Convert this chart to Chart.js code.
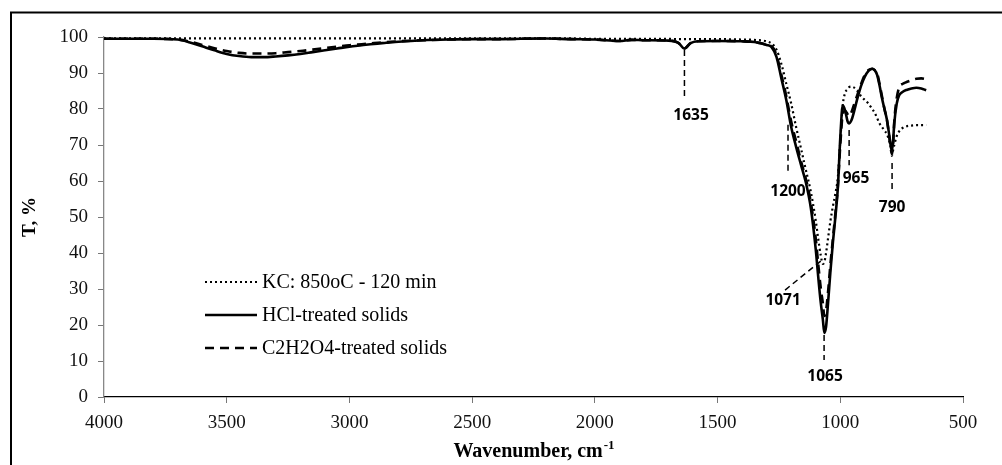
<!DOCTYPE html>
<html>
<head>
<meta charset="utf-8">
<script src="https://cdn.jsdelivr.net/npm/chart.js@4.4.1/dist/chart.umd.min.js"></script>
<style>
  html, body { margin: 0; padding: 0; background: #fff; }
  canvas { display: block; }
</style>
</head>
<body>
<canvas id="c" width="1002" height="465"></canvas>
<script>
// ---- data ----
const wavenumbers = [
  4000,3900,3800,3700,3650,3600,3550,3500,3450,3400,
  3350,3300,3250,3200,3150,3100,3050,3000,2950,2900,
  2850,2800,2700,2600,2500,2400,2300,2200,2100,2000,
  1900,1850,1800,1700,1660,1635,1610,1580,1500,1400,
  1350,1300,1280,1260,1240,1220,1200,1180,1160,1140,
  1120,1100,1090,1080,1071,1065,1058,1050,1040,1030,
  1020,1010,1000,990,980,970,965,955,945,930,
  915,900,885,870,860,850,840,830,820,810,
  800,795,790,785,780,770,760,745,730,710,
  690,670,650
];
const kcValues = [
  99.6,99.6,99.6,99.6,99.6,99.6,99.6,99.6,99.6,99.6,
  99.6,99.6,99.6,99.6,99.6,99.6,99.6,99.6,99.6,99.6,
  99.6,99.6,99.6,99.6,99.6,99.6,99.6,99.6,99.6,99.5,
  99.5,99.5,99.5,99.5,99.4,99.4,99.4,99.4,99.4,99.3,
  99.2,98.8,98.2,96.5,92.5,87.0,81.5,75.0,69.0,63.0,
  57.0,49.0,44.0,39.5,37.0,37.5,40.0,44.0,49.0,53.0,
  56.5,61.0,71.0,81.0,84.5,85.5,86.0,86.2,86.0,85.0,
  83.5,82.5,81.5,80.0,79.0,77.5,76.0,75.0,74.0,73.0,
  71.0,69.5,67.0,68.5,70.0,72.5,73.8,74.8,75.2,75.4,
  75.5,75.5,75.5
];
const hclValues = [
  99.5,99.5,99.5,99.3,98.5,97.4,96.3,95.3,94.7,94.4,
  94.4,94.6,94.9,95.3,95.8,96.3,96.8,97.3,97.7,98.1,
  98.4,98.7,99.1,99.3,99.4,99.4,99.5,99.6,99.4,99.3,
  98.9,99.2,99.1,99.0,98.4,96.8,98.3,98.8,98.9,98.8,
  98.6,97.8,97.2,94.5,88.5,82.5,75.0,69.5,64.5,59.5,
  52.5,41.0,33.5,26.5,21.5,17.8,19.5,26.0,35.0,43.0,
  50.0,58.0,72.0,81.0,79.5,76.5,76.0,76.8,79.0,83.0,
  86.5,89.0,90.6,91.2,90.8,89.5,86.5,83.0,80.0,77.0,
  72.5,70.0,68.3,71.0,76.0,81.5,83.8,84.8,85.3,85.7,
  85.9,85.7,85.2
];
const oxalicValues = [
  99.5,99.5,99.5,99.3,98.7,97.8,96.9,96.1,95.6,95.4,
  95.4,95.5,95.8,96.1,96.5,96.9,97.3,97.7,98.0,98.3,
  98.6,98.8,99.1,99.3,99.4,99.4,99.5,99.6,99.4,99.3,
  98.9,99.2,99.1,99.0,98.4,96.8,98.3,98.8,98.9,98.8,
  98.6,97.9,97.5,95.0,89.5,83.5,76.5,71.0,65.5,60.5,
  54.0,44.0,37.0,30.5,26.0,22.5,24.0,29.0,37.0,44.0,
  51.0,58.5,70.0,78.5,79.5,78.5,78.0,79.0,81.0,84.0,
  87.0,89.5,90.8,91.2,90.8,90.0,87.0,83.5,80.0,77.0,
  72.0,69.5,67.5,70.0,76.5,83.0,86.0,87.0,87.5,88.0,
  88.4,88.5,88.3
];
const seriesNames = ['KC: 850oC - 120 min', 'HCl-treated solids', 'C2H2O4-treated solids'];
const xTicks = [4000, 3500, 3000, 2500, 2000, 1500, 1000, 500];
const yTicks = [0, 10, 20, 30, 40, 50, 60, 70, 80, 90, 100];
const peakLabels = ['1635', '1200', '965', '790', '1071', '1065'];

// annotation geometry (data units) for the peak labels above
const peakMarks = [
  { line: [[1635, 96.4], [1635, 83.3]], at: [1608, 78.3] },
  { line: [[1213, 75.6], [1213, 62.2]], at: [1213, 57.0] },
  { line: [[964, 74.2], [964, 64.4]],   at: [936, 60.8] },
  { line: [[789, 65.0], [789, 56.7]],   at: [789, 52.5] },
  { line: [[1225, 29.7], [1070, 38.3]], at: [1233, 26.7] },
  { line: [[1066, 17.2], [1066, 10.3]], at: [1062, 5.8] }
];

const pts = vals => wavenumbers.map((w, i) => ({ x: w, y: vals[i] }));

const styles = [
  { borderWidth: 2.2, borderDash: [2, 3] },
  { borderWidth: 2.6, borderDash: [] },
  { borderWidth: 2.6, borderDash: [9, 6] }
];
const valueSets = [kcValues, hclValues, oxalicValues];

const serif = "'Liberation Serif', 'Times New Roman', serif";

const decorPlugin = {
  id: 'decor',
  afterDraw(chart) {
    const ctx = chart.ctx;
    const xs = chart.scales.x, ys = chart.scales.y;
    const area = chart.chartArea;
    ctx.save();
    // outer frame
    ctx.strokeStyle = '#000';
    ctx.lineWidth = 2;
    ctx.beginPath();
    ctx.moveTo(11, 466); ctx.lineTo(11, 12.5); ctx.lineTo(1003, 12.5);
    ctx.stroke();

    // peak annotations
    ctx.lineWidth = 1.5;
    ctx.setLineDash([6, 4]);
    peakMarks.forEach(m => {
      ctx.beginPath();
      ctx.moveTo(xs.getPixelForValue(m.line[0][0]), ys.getPixelForValue(m.line[0][1]));
      ctx.lineTo(xs.getPixelForValue(m.line[1][0]), ys.getPixelForValue(m.line[1][1]));
      ctx.stroke();
    });
    ctx.setLineDash([]);
    ctx.fillStyle = '#000';
    ctx.font = "bold 15.5px 'Open Sans', 'Liberation Sans', sans-serif";
    ctx.textAlign = 'center';
    ctx.textBaseline = 'middle';
    peakMarks.forEach((m, i) => {
      ctx.fillText(peakLabels[i], xs.getPixelForValue(m.at[0]), ys.getPixelForValue(m.at[1]));
    });

    // legend inside plot
    const lx = area.left + 101, tx = area.left + 158;
    const rows = [282, 315, 348];
    ctx.font = '20px ' + serif;
    ctx.textAlign = 'left';
    ctx.textBaseline = 'middle';
    seriesNames.forEach((name, i) => {
      ctx.lineWidth = styles[i].borderWidth;
      ctx.setLineDash(styles[i].borderDash);
      ctx.beginPath();
      ctx.moveTo(lx, rows[i]);
      ctx.lineTo(lx + 52, rows[i]);
      ctx.stroke();
      ctx.setLineDash([]);
      ctx.fillText(name, tx, rows[i] + 1);
    });

    // x axis title with superscript
    ctx.font = 'bold 20px ' + serif;
    ctx.textBaseline = 'alphabetic';
    const main = 'Wavenumber, cm';
    const mw = ctx.measureText(main).width;
    ctx.font = 'bold 13px ' + serif;
    const sw = ctx.measureText('-1').width;
    const cx = (area.left + area.right) / 2;
    const startX = cx - (mw + sw) / 2;
    ctx.font = 'bold 20px ' + serif;
    ctx.fillText(main, startX, 457);
    ctx.font = 'bold 13px ' + serif;
    ctx.fillText('-1', startX + mw + 1, 449);
    ctx.restore();
  }
};

new Chart(document.getElementById('c'), {
  type: 'line',
  data: {
    datasets: seriesNames.map((name, i) => ({
      label: name,
      data: pts(valueSets[i]),
      borderColor: '#000',
      borderWidth: styles[i].borderWidth,
      borderDash: styles[i].borderDash,
      pointRadius: 0,
      fill: false,
      cubicInterpolationMode: 'monotone'
    }))
  },
  options: {
    responsive: false,
    animation: false,
    layout: { padding: { left: 0, right: 39, top: 37, bottom: 0 } },
    plugins: { legend: { display: false }, tooltip: { enabled: false } },
    scales: {
      x: {
        type: 'linear',
        reverse: true,
        min: 500, max: 4000,
        afterFit: s => { s.height = 68; },
        afterBuildTicks: s => { s.ticks = xTicks.map(v => ({ value: v })); },
        grid: { drawOnChartArea: false, drawTicks: true, tickLength: 6, color: '#777' },
        border: { color: '#000', width: 1.3 },
        ticks: { font: { family: serif, size: 19 }, color: '#111', padding: 9, maxRotation: 0,
                 callback: v => String(v) }
      },
      y: {
        min: 0, max: 100,
        afterFit: s => { s.width = 104; },
        afterBuildTicks: s => { s.ticks = yTicks.map(v => ({ value: v })); },
        grid: { drawOnChartArea: false, drawTicks: true, tickLength: 6, color: '#777' },
        border: { color: '#888', width: 1.3 },
        ticks: { font: { family: serif, size: 19 }, color: '#111', padding: 10,
                 callback: v => String(v) },
        title: {
          display: true, text: 'T, %',
          font: { family: serif, size: 19, weight: 'bold' }, color: '#000',
          padding: { top: 19, bottom: 0 }
        }
      }
    }
  },
  plugins: [decorPlugin]
});
</script>
</body>
</html>
